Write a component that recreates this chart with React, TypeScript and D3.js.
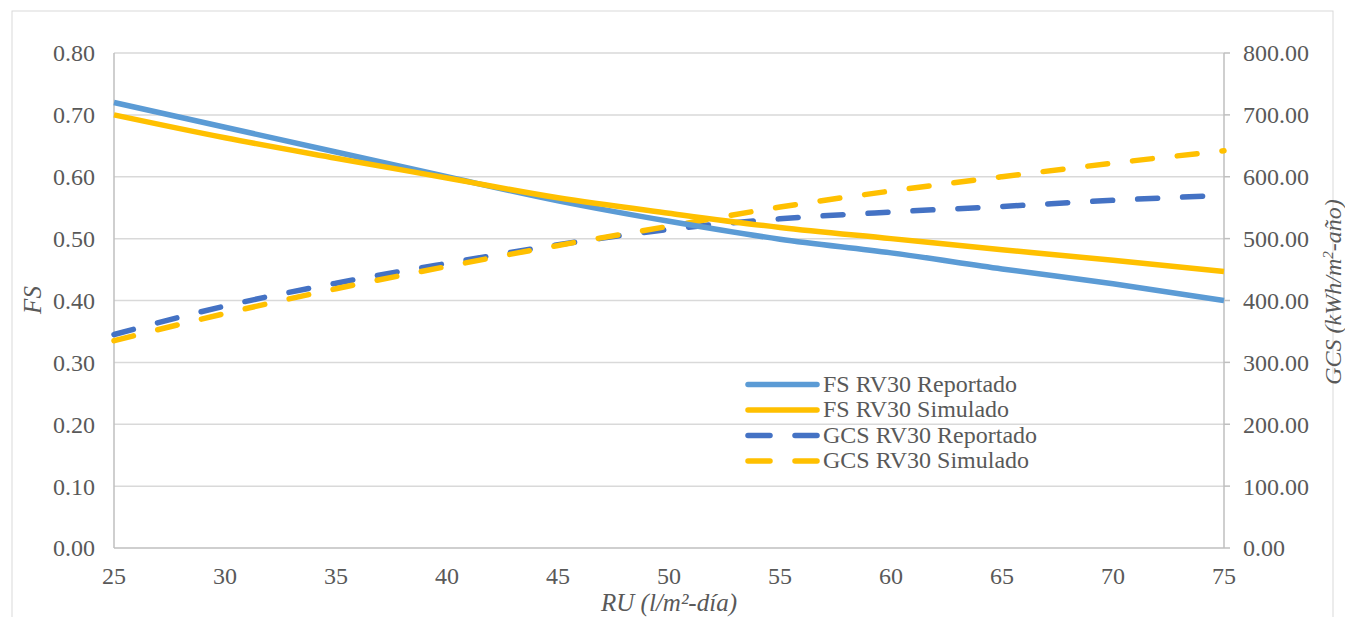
import React from "react";
import * as d3 from "d3";

const ruValues = [25, 30, 35, 40, 45, 50, 55, 60, 65, 70, 75];
const fsReportado = [0.72, 0.68, 0.64, 0.6, 0.561, 0.528, 0.499, 0.477, 0.451, 0.427, 0.4];
const fsSimulado = [0.7, 0.663, 0.63, 0.598, 0.566, 0.541, 0.518, 0.5, 0.482, 0.465, 0.447];
const gcsReportado = [345, 391, 428, 460, 490, 515, 532, 543, 552, 562, 570];
const gcsSimulado = [335, 379, 419, 455, 489, 520, 551, 577, 600, 622, 642];
const xTicks = [25, 30, 35, 40, 45, 50, 55, 60, 65, 70, 75];
const leftTicks = [0, 0.1, 0.2, 0.3, 0.4, 0.5, 0.6, 0.7, 0.8];
const rightTicks = [0, 100, 200, 300, 400, 500, 600, 700, 800];

const series = [
  { name: "FS RV30 Reportado", values: fsReportado, axis: "left", color: "#5B9BD5", dashed: false },
  { name: "FS RV30 Simulado", values: fsSimulado, axis: "left", color: "#FFC000", dashed: false },
  { name: "GCS RV30 Reportado", values: gcsReportado, axis: "right", color: "#4472C4", dashed: true },
  { name: "GCS RV30 Simulado", values: gcsSimulado, axis: "right", color: "#FFC000", dashed: true },
];

const W = 1345;
const H = 617;
const left = 114;
const right = 1224;
const top = 53;
const bottom = 548;
const font = "Liberation Serif, Times New Roman, serif";
const textColor = "#595959";

export default function App() {
  const x = d3.scaleLinear().domain([25, 75]).range([left, right]);
  const yL = d3.scaleLinear().domain([0, 0.8]).range([bottom, top]);
  const yR = d3.scaleLinear().domain([0, 800]).range([bottom, top]);

  const drawOrder = [2, 3, 0, 1];

  return (
    <svg width={W} height={H} style={{ position: "absolute", left: 0, top: 0, background: "#fff", fontFamily: font }}>
      <rect x={12} y={11} width={1321} height={700} fill="#fff" stroke="#d9d9d9" strokeWidth={1} />
      {leftTicks.slice(1).map((t) => (
        <line key={"g" + t} x1={left} x2={right} y1={yL(t)} y2={yL(t)} stroke="#d9d9d9" strokeWidth={1.5} />
      ))}
      <line x1={left} x2={left} y1={top} y2={bottom} stroke="#bfbfbf" strokeWidth={1.5} />
      <line x1={right} x2={right} y1={top} y2={bottom} stroke="#bfbfbf" strokeWidth={1.5} />
      <line x1={left} x2={right} y1={bottom} y2={bottom} stroke="#bfbfbf" strokeWidth={1.5} />
      {rightTicks.map((t) => (
        <line key={"rt" + t} x1={right} x2={right + 6} y1={yR(t)} y2={yR(t)} stroke="#bfbfbf" strokeWidth={1.5} />
      ))}
      {leftTicks.map((t) => (
        <text key={"lt" + t} x={95} y={yL(t)} dy="0.35em" textAnchor="end" fontSize={24} fill={textColor}>
          {t.toFixed(2)}
        </text>
      ))}
      {rightTicks.map((t) => (
        <text key={"rl" + t} x={1243} y={yR(t)} dy="0.35em" textAnchor="start" fontSize={24} fill={textColor}>
          {t.toFixed(2)}
        </text>
      ))}
      {xTicks.map((t) => (
        <text key={"xt" + t} x={x(t)} y={584} textAnchor="middle" fontSize={24} fill={textColor}>
          {t}
        </text>
      ))}
      <text x={669} y={611} textAnchor="middle" fontSize={25} fontStyle="italic" fill={textColor}>
        RU (l/m²-día)
      </text>
      <text transform="translate(41,300) rotate(-90)" textAnchor="middle" fontSize={25} fontStyle="italic" fill={textColor}>
        FS
      </text>
      <text transform="translate(1341,292) rotate(-90)" textAnchor="middle" fontSize={24} fontStyle="italic" fill={textColor}>
        GCS (kWh/m<tspan baseline-shift="super" fontSize={15}>2</tspan>-año)
      </text>
      {drawOrder.map((i) => {
        const s = series[i];
        const ys = s.axis === "left" ? yL : yR;
        const line = d3
          .line<number>()
          .x((_, j) => x(ruValues[j]))
          .y((v) => ys(v))
          .curve(d3.curveMonotoneX);
        return (
          <path
            key={s.name}
            d={line(s.values) || ""}
            fill="none"
            stroke={s.color}
            strokeWidth={5.5}
            strokeLinecap={s.dashed ? "round" : "butt"}
            strokeDasharray={s.dashed ? "20 25" : undefined}
          />
        );
      })}
      {series.map((s, i) => {
        const ly = 384.5 + i * 25.5;
        return (
          <g key={"lg" + s.name}>
            {s.dashed ? (
              <>
                <line x1={748} x2={770} y1={ly} y2={ly} stroke={s.color} strokeWidth={5.5} strokeLinecap="round" />
                <line x1={795} x2={817} y1={ly} y2={ly} stroke={s.color} strokeWidth={5.5} strokeLinecap="round" />
              </>
            ) : (
              <line x1={748} x2={817} y1={ly} y2={ly} stroke={s.color} strokeWidth={5.5} strokeLinecap="round" />
            )}
            <text x={823} y={ly} dy="0.3em" fontSize={24} fill={textColor}>
              {s.name}
            </text>
          </g>
        );
      })}
    </svg>
  );
}
